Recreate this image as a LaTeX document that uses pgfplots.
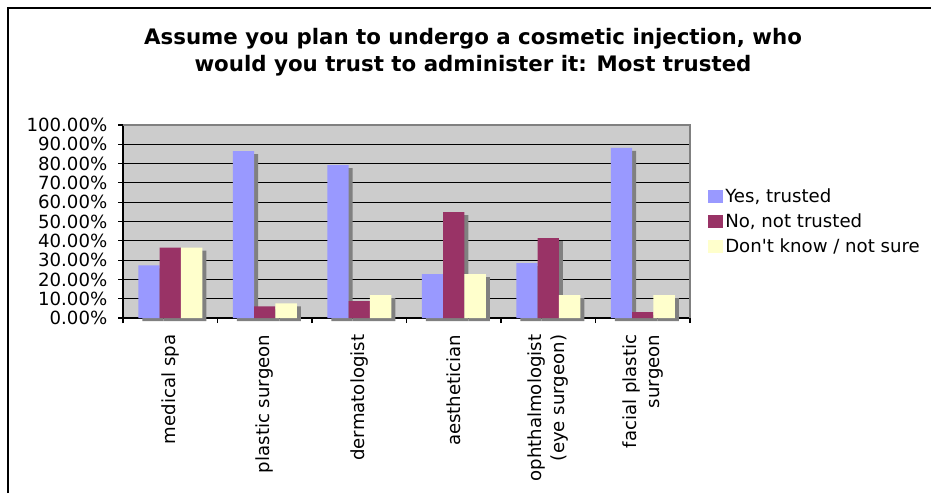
\documentclass[border=0pt]{standalone}
\usepackage{pgfplots}
\pgfplotsset{compat=1.18}
\usepackage{fontspec}
\setmainfont{DejaVu Sans}
\newfontfamily\plainfont{DejaVu Sans} % no TeX ligatures: keeps ' straight

\definecolor{yescol}{HTML}{9999FF}
\definecolor{nocol}{HTML}{993366}
\definecolor{dkcol}{HTML}{FFFFCC}
\definecolor{plotgray}{HTML}{CCCCCC}
\definecolor{shadow}{HTML}{808080}

\pgfplotsset{
  mybar/.style={ybar, bar width=16pt, draw=none,
    legend image code/.code={\fill[##1] (0pt,-4.9pt) rectangle (11.25pt,4.9pt);}},
}

\begin{document}
\begin{tikzpicture}
  % page = 931 x 493 px at 0.75pt per px
  \path[use as bounding box] (0,0) rectangle (698.25pt,369.75pt);
  \draw[black, line width=1.2pt] (6pt,0) -- (6pt,363.75pt) -- (698.25pt,363.75pt);

  \node[anchor=base, font=\fontsize{16}{19}\bfseries] at (354.75pt,336pt)
    {Assume you plan to undergo a cosmetic injection, who};
  \node[anchor=base, font=\fontsize{16}{19}\bfseries] at (354.75pt,315.75pt)
    {would you trust to administer it: Most trusted};

  \begin{axis}[
    at={(92.25pt,131.25pt)}, anchor=south west,
    scale only axis, width=425.25pt, height=144.75pt,
    xmin=-0.5, xmax=5.5, ymin=0, ymax=100,
    clip mode=individual,
    axis x line*=bottom, axis y line*=left,
    axis line style={black, line width=1pt, -},
    axis background/.style={fill=plotgray},
    ymajorgrids, grid style={black, line width=0.8pt},
    tick align=outside, major tick length=3.75pt,
    tick style={black, line width=0.8pt},
    ytick={0,10,...,100},
    yticklabels={0.00\%,10.00\%,20.00\%,30.00\%,40.00\%,50.00\%,60.00\%,70.00\%,80.00\%,90.00\%,100.00\%},
    yticklabel style={font=\fontsize{13.6}{16}\selectfont, anchor=east, xshift=-4.5pt},
    xtick={-0.5,0.5,...,5.5}, xticklabels={},
    extra x ticks={0,1,2,3,4,5},
    extra x tick labels={medical spa, plastic surgeon, dermatologist, aesthetician,
      {ophthalmologist\\(eye surgeon)}, {facial plastic\\surgeon}},
    extra x tick style={major tick length=0pt, grid=none,
      xticklabel style={rotate=90, anchor=east, align=right,
        font=\fontsize{13.6}{17.25}\selectfont, xshift=-9pt}},
    /pgf/number format/assume math mode=true,
    legend style={at={(1,0.5)}, anchor=west, xshift=10pt, draw=none, fill=none,
      font=\fontsize{13.6}{16}\selectfont, row sep=3pt},
    legend cell align=left,
  ]
    % shadows
    \addplot[mybar, fill=shadow, bar shift=-16pt, xshift=3pt, yshift=-2.25pt, forget plot]
      coordinates {(0,27.3) (1,86.4) (2,79.2) (3,22.7) (4,28.4) (5,88.1)};
    \addplot[mybar, fill=shadow, bar shift=0pt, xshift=3pt, yshift=-2.25pt, forget plot]
      coordinates {(0,36.4) (1,6.0) (2,8.7) (3,54.9) (4,41.4) (5,3.0)};
    \addplot[mybar, fill=shadow, bar shift=16pt, xshift=3pt, yshift=-2.25pt, forget plot]
      coordinates {(0,36.4) (1,7.6) (2,11.8) (3,22.7) (4,11.8) (5,11.8)};

    \addplot[mybar, fill=yescol, bar shift=-16pt]
      coordinates {(0,27.3) (1,86.4) (2,79.2) (3,22.7) (4,28.4) (5,88.1)};
    \addplot[mybar, fill=nocol, bar shift=0pt]
      coordinates {(0,36.4) (1,6.0) (2,8.7) (3,54.9) (4,41.4) (5,3.0)};
    \addplot[mybar, fill=dkcol, bar shift=16pt]
      coordinates {(0,36.4) (1,7.6) (2,11.8) (3,22.7) (4,11.8) (5,11.8)};
    \legend{{Yes, trusted}, {No, not trusted}, {\plainfont Don't know / not sure}}

    \draw[shadow, line width=1.5pt] (rel axis cs:0,1) -- (rel axis cs:1,1) -- (rel axis cs:1,0);
  \end{axis}
\end{tikzpicture}
\end{document}
